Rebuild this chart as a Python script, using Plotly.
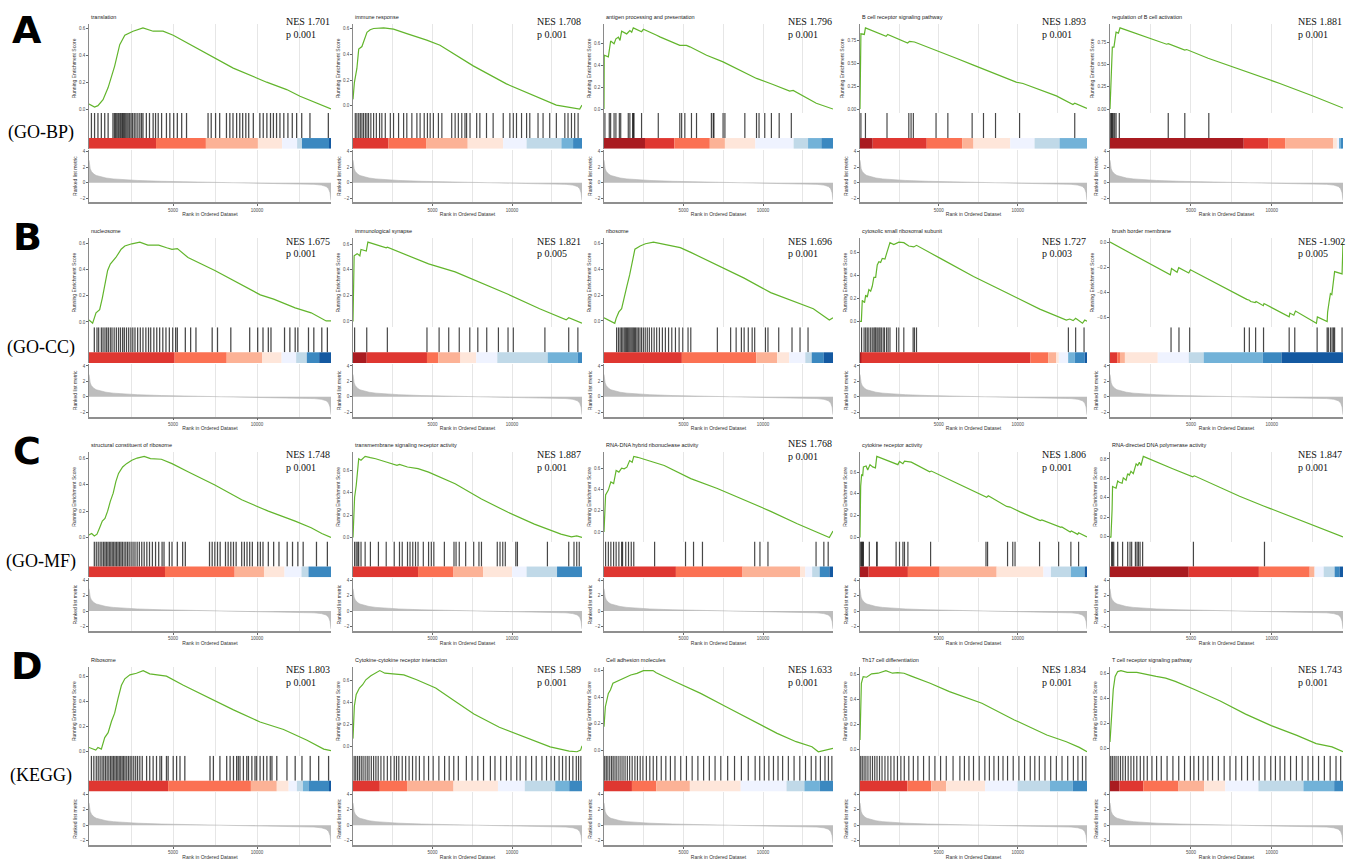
import plotly.graph_objects as go

W, H = 1347, 860
N_GENES = 14400

GROUP_LETTERS = ["A", "B", "C", "D"]
GROUP_NAMES = ["(GO-BP)", "(GO-CC)", "(GO-MF)", "(KEGG)"]

TITLES = [
    "translation", "immune response", "antigen processing and presentation",
    "B cell receptor signaling pathway", "regulation of B cell activation",
    "nucleosome", "immunological synapse", "ribosome",
    "cytosolic small ribosomal subunit", "brush border membrane",
    "structural constituent of ribosome", "transmembrane signaling receptor activity",
    "RNA-DNA hybrid ribonuclease activity", "cytokine receptor activity",
    "RNA-directed DNA polymerase activity",
    "Ribosome", "Cytokine-cytokine receptor interaction", "Cell adhesion molecules",
    "Th17 cell differentiation", "T cell receptor signaling pathway",
]
NES = [1.701, 1.708, 1.796, 1.893, 1.881,
       1.675, 1.821, 1.696, 1.727, -1.902,
       1.748, 1.887, 1.768, 1.806, 1.847,
       1.803, 1.589, 1.633, 1.834, 1.743]
PVAL = [0.001, 0.001, 0.001, 0.001, 0.001,
        0.001, 0.005, 0.001, 0.003, 0.005,
        0.001, 0.001, 0.001, 0.001, 0.001,
        0.001, 0.001, 0.001, 0.001, 0.001]

ES_TICKS = [
    [0, 0.2, 0.4, 0.6], [0, 0.2, 0.4, 0.6], [0, 0.2, 0.4, 0.6], [0, 0.25, 0.5, 0.75], [0, 0.25, 0.5, 0.75],
    [0, 0.2, 0.4, 0.6], [0, 0.2, 0.4, 0.6], [0, 0.2, 0.4, 0.6], [0, 0.2, 0.4, 0.6], [-0.6, -0.4, -0.2, 0],
    [0, 0.2, 0.4, 0.6], [0, 0.2, 0.4, 0.6], [0, 0.2, 0.4, 0.6], [0, 0.2, 0.4, 0.6], [0, 0.2, 0.4, 0.6, 0.8],
    [0, 0.2, 0.4, 0.6], [0, 0.2, 0.4, 0.6], [0, 0.2, 0.4, 0.6], [0, 0.2, 0.4, 0.6], [0, 0.2, 0.4, 0.6],
]
ES_TICKFMT = [".1f", ".1f", ".1f", ".2f", ".2f"] + [".1f"] * 15

# running enrichment score: position (% of ranked list) and score
ES_X = [
    [0, 2.3, 3.7, 5.8, 7.9, 10.6, 12.7, 14.8, 18.2, 22.3, 26.5, 30.6, 34.8, 45.8, 59.6, 73.4, 81.7, 87.2, 94.1, 100],
    [0, 0.6, 1.7, 2.5, 3.9, 4.6, 6.1, 7.5, 9.0, 13.4, 17.7, 23.5, 32.2, 38.0, 52.5, 67.0, 81.5, 88.8, 94.6, 99.0, 100],
    [0, 0.1, 1.9, 2.3, 2.9, 4.4, 5.2, 6.3, 7.0, 7.7, 9.9, 10.6, 11.3, 12.1, 12.8, 16.4, 17.2, 23.0, 24.4, 33.1, 36.0,
     37.5, 44.8, 52.0, 59.3, 66.6, 73.8, 81.1, 82.6, 92.7, 100],
    [0, 0.4, 1.9, 2.4, 11.5, 12.2, 21.0, 21.8, 24.0, 33.5, 42.4, 49.7, 57.1, 68.8, 71.8, 86.5, 93.8, 94.6, 100],
    [0, 0.3, 0.7, 1.0, 1.7, 2.0, 2.6, 3.6, 4.0, 4.3, 24.3, 25.0, 32.1, 32.9, 42.1, 58.6, 72.9, 87.1, 100],
    [0, 1.5, 2.9, 4.4, 5.5, 6.6, 7.7, 8.8, 11.1, 13.3, 14.8, 17.7, 21.0, 24.3, 28.8, 32.1, 34.3, 36.5, 40.9, 52.0,
     63.1, 70.8, 76.3, 85.2, 91.8, 98.0, 100],
    [0, 0.5, 1.8, 3.0, 3.5, 5.8, 6.5, 14.5, 15.0, 33.0, 44.6, 56.1, 67.7, 81.5, 93.1, 94.2, 100],
    [0, 3.0, 4.7, 5.3, 6.5, 7.7, 8.8, 10.0, 11.2, 12.3, 13.5, 15.8, 18.1, 21.6, 25.1, 28.6, 33.3, 37.9, 49.5, 61.2,
     72.8, 84.4, 91.4, 98.4, 100],
    [0, 0.6, 1.0, 2.0, 2.5, 3.2, 3.9, 4.7, 5.4, 6.1, 6.9, 7.6, 8.3, 9.1, 9.8, 11.0, 11.7, 12.4, 13.2, 14.9, 17.1,
     19.3, 21.5, 23.7, 24.9, 35.4, 50.0, 64.6, 79.2, 90.9, 92.4, 93.9, 95.0, 98.0, 99.0, 100],
    [0, 25.9, 26.4, 28.8, 29.5, 33.8, 34.5, 57.3, 58.7, 59.8, 60.4, 62.3, 62.7, 65.8, 66.1, 76.9, 77.2, 78.9, 79.6,
     88.6, 89.0, 93.2, 93.4, 94.0, 94.6, 95.2, 95.7, 96.4, 99.6, 100],
    [0, 1.1, 2.2, 3.3, 4.4, 5.5, 6.6, 7.7, 8.8, 10.0, 11.1, 12.2, 13.9, 15.5, 17.7, 19.9, 22.8, 25.4, 29.9, 34.3,
     40.9, 52.0, 63.1, 74.1, 85.2, 91.8, 96.2, 100],
    [0, 0.7, 1.4, 2.5, 3.5, 5.3, 7.6, 9.9, 14.5, 16.9, 19.2, 20.3, 23.8, 28.4, 33.0, 44.6, 56.1, 67.7, 79.2, 90.8,
     95.4, 97.7, 100],
    [0, 0.7, 1.9, 3.0, 4.2, 5.3, 6.5, 7.7, 8.8, 10.0, 11.2, 12.3, 13.0, 14.7, 26.3, 37.9, 49.5, 61.2, 72.8, 84.4,
     93.7, 98.4, 100],
    [0, 0.3, 0.7, 1.2, 1.5, 2.7, 3.4, 4.4, 5.6, 6.8, 7.4, 10.0, 15.9, 16.7, 17.4, 18.9, 19.6, 21.1, 22.6, 30.7, 31.4,
     42.5, 49.9, 55.8, 56.5, 64.6, 66.1, 70.5, 79.4, 80.1, 88.5, 88.9, 92.6, 93.1, 95.9, 96.3, 100],
    [0, 0.4, 0.9, 1.1, 1.9, 2.6, 3.3, 4.0, 5.2, 5.7, 6.9, 7.6, 8.3, 9.0, 10.0, 11.2, 11.9, 12.6, 13.3, 14.3, 26.9,
     35.5, 36.2, 55.6, 65.9, 84.2, 100],
    [0, 1.7, 2.8, 3.7, 5.1, 6.5, 7.9, 9.3, 10.6, 12.0, 13.4, 14.8, 16.9, 19.6, 22.4, 25.1, 29.3, 32.0, 39.0, 45.9,
     59.7, 70.7, 80.4, 90.1, 97.0, 100],
    [0, 0.6, 1.4, 2.8, 4.2, 5.6, 7.8, 9.7, 11.7, 13.9, 16.7, 22.2, 27.8, 36.1, 44.4, 52.8, 63.9, 75.0, 86.1, 94.4,
     97.8, 99.4, 100],
    [0, 0.6, 1.9, 2.8, 3.9, 5.3, 6.7, 8.9, 11.7, 14.4, 17.2, 21.4, 22.8, 31.1, 42.2, 53.3, 64.4, 75.6, 83.9, 90.8,
     93.6, 96.4, 100],
    [0, 0.6, 1.4, 2.9, 5.1, 8.0, 11.4, 14.3, 16.6, 19.4, 22.3, 30.9, 39.4, 53.7, 68.0, 82.3, 90.9, 96.6, 100],
    [0, 0.5, 1.4, 2.2, 3.3, 4.7, 7.4, 11.5, 15.7, 19.8, 23.9, 28.0, 36.3, 47.3, 58.2, 69.2, 80.2, 88.5, 95.3, 100],
]
ES_Y = [
    [0.037, 0.015, 0.025, 0.07, 0.16, 0.32, 0.48, 0.55, 0.58, 0.605, 0.58, 0.58, 0.55, 0.44, 0.305, 0.2, 0.145,
     0.095, 0.045, 0.0],
    [0.05, 0.18, 0.29, 0.44, 0.46, 0.50, 0.57, 0.59, 0.60, 0.605, 0.595, 0.56, 0.51, 0.47, 0.31, 0.17, 0.06, 0.005,
     -0.013, -0.025, 0.005],
    [0, 0.49, 0.475, 0.55, 0.62, 0.595, 0.64, 0.655, 0.625, 0.71, 0.685, 0.70, 0.715, 0.70, 0.74, 0.705, 0.727,
     0.673, 0.658, 0.58, 0.58, 0.567, 0.49, 0.43, 0.355, 0.279, 0.224, 0.164, 0.17, 0.052, 0.0],
    [0, 0.821, 0.814, 0.886, 0.793, 0.814, 0.721, 0.739, 0.732, 0.636, 0.554, 0.482, 0.411, 0.293, 0.279, 0.143,
     0.05, 0.064, 0.007],
    [0, 0.278, 0.444, 0.70, 0.70, 0.785, 0.87, 0.859, 0.91, 0.918, 0.733, 0.74, 0.666, 0.673, 0.574, 0.426, 0.289,
     0.148, 0.011],
    [0.015, -0.01, 0.07, 0.095, 0.183, 0.283, 0.395, 0.445, 0.495, 0.558, 0.583, 0.6, 0.613, 0.59, 0.59, 0.57,
     0.558, 0.563, 0.495, 0.395, 0.283, 0.208, 0.175, 0.108, 0.07, 0.008, 0.008],
    [-0.005, 0.508, 0.525, 0.508, 0.558, 0.545, 0.615, 0.57, 0.575, 0.445, 0.383, 0.295, 0.208, 0.095, 0.008,
     0.025, -0.018],
    [0.025, 0.0, -0.018, 0.02, 0.07, 0.095, 0.17, 0.27, 0.358, 0.47, 0.558, 0.583, 0.6, 0.613, 0.6, 0.59, 0.57,
     0.533, 0.433, 0.333, 0.22, 0.145, 0.095, 0.008, 0.025],
    [0, 0, 0.183, 0.163, 0.229, 0.211, 0.277, 0.263, 0.306, 0.383, 0.383, 0.491, 0.52, 0.514, 0.549, 0.543, 0.591,
     0.629, 0.686, 0.669, 0.691, 0.686, 0.657, 0.649, 0.663, 0.549, 0.391, 0.249, 0.106, 0.011, 0.02, 0.006,
     0.026, -0.017, 0.011, 0.0],
    [0, -0.261, -0.21, -0.24, -0.203, -0.246, -0.22, -0.448, -0.456, -0.463, -0.473, -0.481, -0.473, -0.506,
     -0.489, -0.595, -0.565, -0.582, -0.549, -0.646, -0.595, -0.633, -0.557, -0.481, -0.41, -0.418, -0.322,
     -0.235, -0.253, 0],
    [0.02, 0.03, 0.012, 0.025, 0.074, 0.124, 0.144, 0.199, 0.273, 0.335, 0.422, 0.484, 0.533, 0.558, 0.583, 0.6,
     0.613, 0.596, 0.591, 0.558, 0.496, 0.397, 0.285, 0.199, 0.124, 0.074, 0.03, 0.0],
    [0, 0.358, 0.463, 0.701, 0.687, 0.722, 0.71, 0.701, 0.672, 0.657, 0.642, 0.651, 0.627, 0.612, 0.582, 0.478,
     0.343, 0.224, 0.119, 0.03, 0.006, 0.015, 0.0],
    [0, 0.348, 0.394, 0.471, 0.455, 0.578, 0.563, 0.6, 0.594, 0.609, 0.671, 0.655, 0.711, 0.702, 0.625, 0.502,
     0.409, 0.302, 0.194, 0.077, -0.006, -0.052, 0.009],
    [0, 0.471, 0.574, 0.568, 0.647, 0.656, 0.618, 0.668, 0.647, 0.638, 0.744, 0.721, 0.676, 0.668, 0.697, 0.676,
     0.7, 0.697, 0.691, 0.603, 0.609, 0.5, 0.426, 0.368, 0.382, 0.285, 0.279, 0.235, 0.156, 0.162, 0.094, 0.097,
     0.05, 0.059, 0.029, 0.044, 0.006],
    [0, -0.007, 0.283, 0.517, 0.507, 0.5, 0.573, 0.56, 0.55, 0.607, 0.583, 0.65, 0.633, 0.673, 0.65, 0.75, 0.733,
     0.767, 0.733, 0.827, 0.7, 0.617, 0.627, 0.417, 0.317, 0.15, 0.0],
    [0.034, 0.021, 0.013, 0.034, 0.021, 0.112, 0.151, 0.242, 0.306, 0.423, 0.527, 0.579, 0.61, 0.623, 0.644, 0.618,
     0.61, 0.6, 0.527, 0.462, 0.332, 0.236, 0.177, 0.091, 0.021, 0.008],
    [0.069, 0.367, 0.472, 0.531, 0.561, 0.606, 0.642, 0.666, 0.69, 0.666, 0.66, 0.651, 0.606, 0.531, 0.412, 0.293,
     0.173, 0.084, -0.006, -0.045, -0.051, -0.036, 0.003],
    [0.176, 0.327, 0.428, 0.453, 0.504, 0.516, 0.529, 0.549, 0.567, 0.579, 0.6, 0.6, 0.584, 0.516, 0.428, 0.327,
     0.227, 0.126, 0.063, 0.025, -0.013, 0.0, 0.013],
    [0.075, 0.528, 0.581, 0.576, 0.603, 0.608, 0.629, 0.608, 0.613, 0.608, 0.587, 0.528, 0.461, 0.368, 0.235,
     0.115, 0.061, 0.016, -0.019],
    [0.053, 0.211, 0.474, 0.579, 0.618, 0.626, 0.611, 0.611, 0.592, 0.579, 0.566, 0.539, 0.474, 0.382, 0.276,
     0.184, 0.105, 0.039, 0.013, -0.026],
]

# gene-set hit positions (% of ranked list)
HITS = [
    [1.0, 2.3, 3.7, 5.1, 6.5, 7.9, 9.9, 10.5, 11.0, 11.5, 12.0, 12.4, 12.9, 13.3, 13.8, 14.2, 14.7, 15.2, 15.7,
     16.2, 16.8, 17.4, 18.0, 18.7, 19.4, 20.2, 21.0, 21.7, 22.3, 23.7, 25.0, 26.5, 27.5, 28.6, 30.0, 32.0, 33.4,
     35.0, 36.5, 38.3, 40.3, 49.2, 50.5, 52.3, 54.0, 56.8, 58.2, 59.5, 61.0, 62.3, 63.5, 64.8, 66.0, 67.9, 70.6,
     72.0, 73.5, 75.0, 76.2, 77.5, 78.9, 80.5, 82.2, 84.0, 85.8, 87.9, 91.3, 98.9],
    [1.0, 1.7, 2.5, 3.2, 3.9, 4.6, 5.4, 6.1, 6.8, 7.8, 9.0, 10.2, 11.6, 12.6, 14.1, 16.3, 17.7, 19.9, 22.1, 23.5,
     25.7, 27.9, 29.3, 31.1, 32.5, 33.7, 35.1, 37.3, 38.8, 43.1, 44.6, 46.0, 47.5, 48.9, 49.6, 51.1, 54.0, 55.4,
     58.3, 61.2, 65.6, 68.5, 70.0, 71.4, 73.6, 75.8, 77.2, 80.8, 83.0, 85.9, 88.8, 92.5, 93.9, 95.4, 96.8, 98.3],
    [0.4, 2.3, 2.9, 4.4, 5.2, 6.7, 7.3, 10.6, 11.3, 12.5, 12.8, 13.1, 16.4, 23.7, 33.1, 33.9, 35.3, 38.2, 40.4,
     46.9, 47.7, 48.0, 52.0, 52.8, 61.5, 66.6, 67.7, 70.2, 73.1, 76.5, 81.8],
    [0.4, 2.4, 11.9, 21.5, 22.5, 23.5, 33.5, 38.7, 49.4, 54.4, 59.7, 70.3, 94.6],
    [0.3, 0.7, 1.0, 1.4, 2.0, 2.6, 4.0, 25.0, 32.1, 42.4],
    [2.2, 3.3, 4.0, 5.1, 5.8, 6.6, 7.3, 8.0, 8.8, 9.5, 10.4, 11.3, 12.2, 13.0, 13.9, 14.6, 15.5, 16.4, 17.3, 18.1,
     19.0, 20.1, 21.2, 22.3, 23.5, 24.6, 25.5, 26.8, 28.0, 29.2, 30.5, 31.8, 33.2, 34.6, 35.8, 36.5, 39.8, 42.0,
     44.2, 50.9, 53.1, 58.6, 66.4, 69.7, 71.9, 74.1, 75.2, 80.8, 83.0, 85.2, 86.3, 90.7, 92.9, 96.2, 98.5],
    [0.7, 6.0, 15.0, 32.3, 37.6, 41.8, 46.4, 51.0, 54.5, 58.4, 63.5, 67.7, 70.0, 83.8, 94.2, 98.2],
    [5.5, 6.3, 7.0, 7.6, 8.2, 8.8, 9.3, 9.8, 10.3, 10.8, 11.3, 11.8, 12.3, 12.8, 13.3, 13.8, 14.4, 15.0, 15.7,
     16.4, 17.2, 18.0, 18.9, 19.8, 20.8, 21.9, 23.0, 24.2, 25.5, 26.8, 28.2, 29.6, 31.2, 32.8, 34.4, 36.7, 37.9,
     49.5, 55.3, 57.7, 60.0, 61.2, 63.0, 64.7, 65.8, 70.5, 71.6, 76.3, 82.1, 85.6, 89.1],
    [0.7, 1.8, 2.5, 3.2, 3.9, 4.7, 5.4, 6.1, 6.6, 7.0, 7.6, 8.3, 8.8, 9.4, 10.2, 10.8, 11.7, 12.4, 13.2, 16.1,
     17.1, 19.3, 23.4, 24.0, 24.9, 91.8, 95.0, 98.7],
    [26.2, 29.6, 34.2, 57.7, 59.8, 62.5, 65.9, 76.9, 79.3, 88.9, 93.2, 93.7, 94.6, 95.3, 95.9, 96.4, 99.6],
    [2.2, 3.0, 3.8, 4.6, 5.3, 6.0, 6.6, 7.2, 7.8, 8.4, 9.0, 9.6, 10.2, 10.8, 11.4, 12.0, 12.6, 13.2, 13.8, 14.5,
     15.2, 15.9, 16.6, 17.4, 18.2, 19.0, 19.9, 20.8, 21.8, 22.8, 23.9, 25.0, 26.2, 27.5, 28.8, 30.2, 31.0, 33.2,
     34.3, 36.5, 38.7, 39.8, 49.8, 50.9, 52.0, 53.1, 54.2, 56.4, 57.5, 58.6, 59.7, 60.8, 63.1, 64.2, 65.3, 66.4,
     67.5, 69.7, 70.8, 71.9, 74.1, 76.3, 78.5, 81.9, 84.1, 86.3, 88.5, 94.0, 98.5],
    [0.7, 1.4, 2.1, 2.5, 3.5, 5.3, 7.6, 11.1, 14.5, 18.0, 20.3, 21.5, 23.8, 24.9, 26.1, 27.3, 28.4, 30.7, 33.0,
     34.2, 35.3, 39.9, 44.1, 45.0, 46.4, 49.2, 52.7, 55.0, 56.1, 63.0, 64.2, 65.4, 66.5, 71.1, 71.8, 84.9, 94.2,
     96.5, 97.7, 98.8],
    [0.7, 1.9, 3.0, 4.2, 5.3, 6.5, 7.7, 8.1, 9.5, 10.7, 11.9, 13.0, 22.1, 35.6, 39.1, 43.0, 65.8, 68.1, 71.6,
     92.6, 96.0, 97.9],
    [0.1, 0.6, 0.9, 1.2, 1.5, 4.1, 7.4, 7.5, 15.9, 17.4, 18.9, 19.6, 21.1, 31.1, 55.5, 56.2, 65.0, 67.3, 68.3,
     79.1, 87.5, 92.9, 96.3],
    [0.7, 1.1, 1.6, 3.3, 5.4, 7.6, 8.6, 9.3, 10.9, 11.6, 12.2, 12.9, 14.0, 35.8, 66.3],
    [1.0, 2.0, 3.0, 3.8, 4.6, 5.4, 6.1, 6.8, 7.5, 8.2, 8.9, 9.5, 10.1, 10.7, 11.3, 11.9, 12.5, 13.1, 13.7, 14.3,
     14.9, 15.6, 16.3, 17.0, 17.7, 18.5, 19.3, 20.1, 21.0, 22.0, 23.8, 25.1, 26.5, 27.9, 29.3, 30.0, 32.0, 32.7,
     34.8, 36.2, 37.6, 39.6, 50.0, 51.4, 54.1, 56.9, 58.3, 59.7, 61.0, 61.7, 62.4, 63.8, 65.2, 65.9, 67.3, 68.6,
     69.3, 70.7, 72.1, 73.5, 74.9, 75.6, 77.6, 81.8, 85.2, 88.0, 91.4, 94.9, 99.0],
    [0.5, 1.2, 2.0, 2.8, 3.6, 4.4, 5.3, 6.2, 7.0, 8.0, 9.0, 10.0, 11.0, 12.2, 13.5, 15.0, 16.5, 18.0, 19.0, 20.0,
     21.5, 23.0, 24.5, 26.0, 27.5, 29.0, 31.0, 33.0, 35.0, 37.5, 40.0, 42.0, 44.0, 46.0, 49.5, 52.0, 54.5, 57.0,
     60.0, 62.0, 64.5, 67.0, 69.0, 71.5, 73.0, 75.5, 78.0, 80.0, 82.5, 84.5, 86.5, 88.0, 90.0, 91.5, 93.0, 94.5,
     96.0, 97.5, 98.5, 99.5],
    [0.3, 1.0, 1.7, 2.5, 3.3, 4.0, 4.8, 5.6, 6.5, 7.4, 8.3, 9.2, 10.2, 11.2, 12.3, 13.5, 14.6, 15.8, 17.0, 18.5,
     20.0, 21.5, 23.0, 25.0, 27.0, 29.0, 31.0, 33.5, 36.0, 38.5, 41.0, 43.5, 46.0, 48.5, 51.0, 54.0, 57.0, 60.0,
     63.0, 66.0, 68.0, 70.0, 72.0, 74.0, 76.0, 78.0, 80.5, 83.0, 85.5, 88.0, 90.5, 92.5, 94.5, 96.5, 98.0, 99.5],
    [0.3, 1.0, 1.8, 2.6, 3.5, 4.5, 5.5, 6.5, 7.5, 8.6, 9.7, 11.0, 12.3, 13.6, 15.0, 16.5, 18.0, 19.5, 21.5, 23.5,
     25.5, 28.0, 30.5, 33.0, 35.5, 38.0, 41.0, 44.0, 46.0, 48.0, 50.0, 52.5, 55.0, 57.0, 59.0, 61.0, 63.0, 65.0,
     67.5, 70.0, 72.5, 75.0, 77.0, 79.0, 81.5, 84.0, 86.5, 89.0, 91.5, 94.0, 96.0, 98.0, 99.5],
    [0.3, 1.0, 1.8, 2.6, 3.5, 4.5, 5.5, 6.6, 7.8, 9.0, 10.2, 11.5, 13.0, 14.5, 16.0, 18.0, 20.0, 22.0, 24.5, 27.0,
     29.5, 32.0, 34.5, 36.0, 38.0, 40.0, 42.0, 44.0, 46.5, 49.0, 51.5, 54.0, 56.5, 59.0, 61.5, 64.0, 66.5, 69.0,
     71.0, 73.0, 75.0, 77.5, 80.0, 82.5, 85.0, 87.0, 89.5, 92.0, 94.5, 97.0, 99.0],
]

# colour strip under the hits: segment edges (% of ranked list) and palette index
PALETTE = ["#08519C", "#3182BD", "#6BAED6", "#BDD7E7", "#EFF3FF",
           "#FEE5D9", "#FCAE91", "#FB6A4A", "#DE2D26", "#A50F15"]
SEG_EDGES = [
    [0, 27.7, 48.3, 69.8, 79.8, 86.0, 88.0, 99.2, 100],
    [0, 15.5, 31.9, 50.1, 65.6, 75.8, 91.0, 96.1, 100],
    [0, 17.9, 30.7, 46.2, 52.8, 66.1, 82.8, 89.1, 94.9, 100],
    [0, 5.6, 29.4, 45.0, 50.0, 66.2, 76.9, 87.9, 100],
    [0, 57.4, 67.9, 75.3, 95.7, 97.4, 98.6, 99.4, 100],
    [0, 35.4, 56.9, 71.5, 79.6, 85.6, 90.0, 95.1, 100],
    [0, 6.0, 32.3, 37.2, 46.9, 53.8, 63.0, 85.0, 98.2, 100],
    [0, 34.0, 66.5, 75.6, 80.9, 87.9, 90.7, 96.0, 100],
    [0, 0.6, 75.1, 82.9, 86.5, 87.6, 91.7, 94.6, 99.0, 100],
    [0, 3.1, 4.3, 6.4, 20.5, 33.8, 40.2, 65.5, 73.6, 100],
    [0, 31.4, 60.2, 72.3, 80.8, 87.8, 90.7, 100],
    [0, 28.4, 43.9, 56.8, 69.5, 75.8, 89.1, 100],
    [0, 31.4, 60.5, 85.6, 87.9, 90.9, 94.2, 98.4, 100],
    [0, 3.8, 21.1, 35.1, 60.2, 80.8, 84.1, 92.9, 99.0, 100],
    [0, 33.8, 63.9, 85.7, 87.8, 91.7, 96.4, 98.6, 100],
    [0, 32.7, 66.9, 77.6, 82.5, 85.9, 88.4, 90.7, 99.4, 100],
    [0, 11.7, 23.6, 43.9, 63.3, 75.0, 88.3, 94.4, 100],
    [0, 12.2, 22.8, 37.5, 59.7, 79.7, 87.5, 94.2, 100],
    [0, 20.9, 31.4, 38.0, 55.1, 69.4, 83.7, 93.7, 100],
    [0, 4.1, 14.3, 29.4, 40.4, 49.5, 63.7, 83.0, 96.2, 100],
]
SEG_COLS = [
    [8, 7, 6, 5, 4, 3, 1, 0], [8, 7, 6, 5, 4, 3, 2, 1], [9, 8, 7, 6, 5, 4, 3, 2, 1], [9, 8, 7, 6, 5, 4, 3, 2],
    [9, 8, 7, 6, 5, 4, 2, 1],
    [8, 7, 6, 5, 4, 3, 1, 0], [9, 8, 7, 6, 5, 4, 3, 2, 1], [8, 7, 6, 5, 4, 3, 1, 0], [9, 8, 7, 6, 5, 4, 2, 1, 0],
    [8, 7, 6, 5, 4, 3, 2, 1, 0],
    [8, 7, 6, 5, 4, 3, 1], [8, 7, 6, 5, 4, 3, 1], [8, 7, 6, 5, 4, 3, 1, 0], [9, 8, 7, 6, 5, 4, 3, 2, 0],
    [9, 8, 7, 6, 4, 3, 1, 0],
    [8, 7, 6, 5, 4, 3, 2, 1, 0], [8, 7, 6, 5, 4, 3, 2, 1], [8, 7, 6, 5, 4, 3, 2, 1], [8, 7, 6, 5, 4, 3, 2, 1],
    [9, 8, 7, 6, 5, 4, 3, 2, 1],
]

# ranked list metric (shared by every panel)
RANK_PCT = [0, 0.2, 0.5, 1, 2, 3, 5, 7, 10, 15, 20, 30, 40, 50, 60, 70, 80, 88, 93, 96, 98, 99, 99.6, 100]
RANK_VAL = [2.9, 2.3, 1.8, 1.45, 1.1, 0.92, 0.72, 0.6, 0.48, 0.36, 0.28, 0.17, 0.1, 0.05, 0.0, -0.04, -0.09,
            -0.15, -0.22, -0.32, -0.5, -0.8, -1.3, -2.3]

# ---------------- layout geometry (pixels) ----------------
COL_L = [89, 353, 604, 860, 1110]
COL_R = [331, 582, 833, 1087, 1343]
ROW_T = [17, 233, 449, 665]
LETTER_Y = [30, 239, 455, 671]
NES_DY = [[5, 5, 5, 5, 5], [10, 10, 10, 10, 10], [9, 9, -2, 9, 9], [10, 10, 10, 10, 10]]

GREEN = "#62B52C"
TICKFONT = dict(family="Liberation Sans", size=4.5, color="#4d4d4d")
TITLEFONT = dict(family="Liberation Sans", size=5, color="#333333")
GRID = "#e6e6e6"


def px_x(v):
    return v / W


def px_y(v):
    return 1 - v / H


fig = go.Figure()
layout = dict(
    width=W, height=H, margin=dict(l=0, r=0, t=0, b=0), autosize=False,
    paper_bgcolor="white", plot_bgcolor="white", showlegend=False, barmode="overlay",
    bargap=0.2,
)
annotations = []


def axname(k, kind):
    return kind if k == 1 else f"{kind}{k}"


for i in range(20):
    r, c = divmod(i, 5)
    L, R, t = COL_L[c], COL_R[c], ROW_T[r]
    xd = [px_x(L), px_x(R)]
    k_es, k_hit, k_rk = 3 * i + 1, 3 * i + 2, 3 * i + 3

    # ---- running ES ----
    ex = [p / 100 * N_GENES for p in ES_X[i]]
    ey = ES_Y[i]
    fig.add_trace(go.Scatter(x=ex, y=ey, mode="lines", line=dict(color=GREEN, width=1.2),
                             xaxis=axname(k_es, "x"), yaxis=axname(k_es, "y"), hoverinfo="skip"))
    lo, hi = min(ey + [ES_TICKS[i][0]]), max(ey)
    span = hi - lo
    layout[f"xaxis{k_es}"] = dict(domain=xd, anchor=axname(k_es, "y"), range=[0, N_GENES],
                                  showticklabels=False, ticks="", showgrid=True, gridcolor=GRID,
                                  gridwidth=0.7, dtick=2500, tick0=0, zeroline=False, showline=False)
    layout[f"yaxis{k_es}"] = dict(domain=[px_y(t + 97), px_y(t + 7)], anchor=axname(k_es, "x"),
                                  range=[lo - 0.05 * span, hi + 0.05 * span],
                                  tickvals=ES_TICKS[i], tickformat=ES_TICKFMT[i], tickfont=TICKFONT,
                                  ticks="outside", ticklen=2, tickwidth=0.5, tickcolor="#666",
                                  showline=True, linecolor="#8a8a8a", linewidth=0.8,
                                  showgrid=False, zeroline=False,
                                  title=dict(text="Running Enrichment Score", font=TITLEFONT, standoff=2))

    # ---- hits + colour strip ----
    hx = [h / 100 * N_GENES for h in HITS[i]]
    fig.add_trace(go.Bar(x=hx, y=[0.7] * len(hx), base=0.3, width=75,
                         marker=dict(color="rgba(0,0,0,0.72)", line=dict(width=0)),
                         xaxis=axname(k_hit, "x"), yaxis=axname(k_hit, "y"), hoverinfo="skip"))
    edges = [e / 100 * N_GENES for e in SEG_EDGES[i]]
    mids = [(a + b) / 2 for a, b in zip(edges[:-1], edges[1:])]
    wids = [b - a for a, b in zip(edges[:-1], edges[1:])]
    cols = [PALETTE[ci] for ci in SEG_COLS[i]]
    fig.add_trace(go.Bar(x=mids, y=[0.3] * len(mids), base=0, width=wids,
                         marker=dict(color=cols, line=dict(width=0)), opacity=0.95,
                         xaxis=axname(k_hit, "x"), yaxis=axname(k_hit, "y"), hoverinfo="skip"))
    layout[f"xaxis{k_hit}"] = dict(domain=xd, anchor=axname(k_hit, "y"), range=[0, N_GENES],
                                   showticklabels=False, ticks="", showgrid=False, zeroline=False,
                                   showline=False)
    layout[f"yaxis{k_hit}"] = dict(domain=[px_y(t + 133), px_y(t + 97)], anchor=axname(k_hit, "x"),
                                   range=[0, 1], showticklabels=False, ticks="", showgrid=False,
                                   zeroline=False, showline=True, linecolor="#8a8a8a", linewidth=0.8)

    # ---- ranked list metric ----
    rx = [p / 100 * N_GENES for p in RANK_PCT]
    fig.add_trace(go.Scatter(x=rx, y=RANK_VAL, mode="lines", fill="tozeroy", fillcolor="#bdbdbd",
                             line=dict(color="#b5b5b5", width=0.6),
                             xaxis=axname(k_rk, "x"), yaxis=axname(k_rk, "y"), hoverinfo="skip"))
    layout[f"xaxis{k_rk}"] = dict(domain=xd, anchor=axname(k_rk, "y"), range=[0, N_GENES],
                                  tickvals=[5000, 10000], ticktext=["5000", "10000"], tickfont=TICKFONT,
                                  ticks="outside", ticklen=2, tickwidth=0.5, tickcolor="#666",
                                  showgrid=True, gridcolor=GRID, gridwidth=0.7,
                                  minor=dict(dtick=2500, tick0=0, showgrid=True, gridcolor=GRID,
                                             gridwidth=0.7, ticks=""),
                                  zeroline=False, showline=True, linecolor="#8f8f8f", linewidth=1.6,
                                  title=dict(text="Rank in Ordered Dataset", font=TITLEFONT, standoff=1))
    layout[f"yaxis{k_rk}"] = dict(domain=[px_y(t + 187), px_y(t + 134)], anchor=axname(k_rk, "x"),
                                  range=[-2.55, 4.25], tickvals=[-2, 0, 2, 4], tickfont=TICKFONT,
                                  ticks="outside", ticklen=2, tickwidth=0.5, tickcolor="#666",
                                  showline=True, linecolor="#8a8a8a", linewidth=0.8,
                                  showgrid=False, zeroline=False,
                                  title=dict(text="Ranked list metric", font=TITLEFONT, standoff=2))

    # ---- texts ----
    annotations.append(dict(x=px_x(L), y=px_y(t), xref="paper", yref="paper", xanchor="left",
                            yanchor="middle", text=TITLES[i], showarrow=False,
                            font=dict(family="Liberation Sans", size=5.5, color="#222")))
    ny = t + NES_DY[r][c]
    annotations.append(dict(x=px_x(R - 47), y=px_y(ny), xref="paper", yref="paper", xanchor="left",
                            yanchor="middle", text=f"NES {NES[i]:.3f}", showarrow=False,
                            font=dict(family="Liberation Serif", size=10, color="#111")))
    annotations.append(dict(x=px_x(R - 47), y=px_y(ny + 13), xref="paper", yref="paper", xanchor="left",
                            yanchor="middle", text=f"p {PVAL[i]:.3f}", showarrow=False,
                            font=dict(family="Liberation Serif", size=10, color="#111")))

for r in range(4):
    annotations.append(dict(x=px_x(27), y=px_y(LETTER_Y[r]), xref="paper", yref="paper",
                            xanchor="center", yanchor="middle", text=f"<b>{GROUP_LETTERS[r]}</b>",
                            showarrow=False, font=dict(family="DejaVu Sans", size=38, color="black")))
    annotations.append(dict(x=px_x(41), y=px_y(ROW_T[r] + 117), xref="paper", yref="paper",
                            xanchor="center", yanchor="middle", text=GROUP_NAMES[r], showarrow=False,
                            font=dict(family="Liberation Serif", size=18, color="black")))

layout["annotations"] = annotations
fig.update_layout(**layout)

fig.write_html("out.html", config={"displayModeBar": False},
               post_script="document.body.style.margin='0';document.body.style.overflow='hidden';")
